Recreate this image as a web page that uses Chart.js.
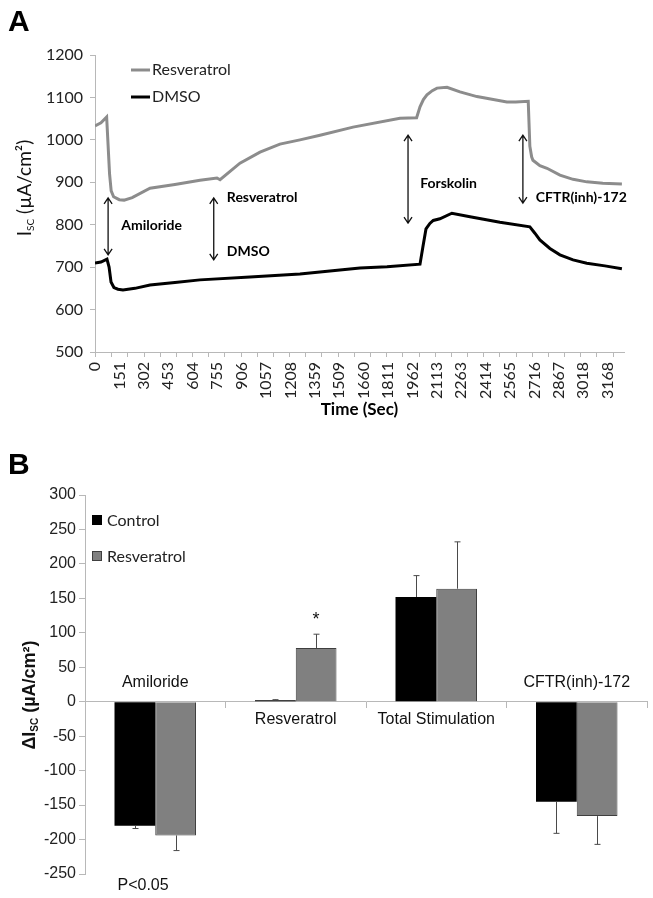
<!DOCTYPE html>
<html>
<head>
<meta charset="utf-8">
<script src="https://cdn.jsdelivr.net/npm/chart.js@4.4.1/dist/chart.umd.min.js"></script>
<style>
  body { margin: 0; background: #fff; }
  canvas { display: block; }
</style>
</head>
<body>
<canvas id="chartA" width="653" height="450" style="width:653px;height:450px"></canvas>
<canvas id="chartB" width="653" height="448" style="width:653px;height:448px"></canvas>
<script>
// ---- panel A: Isc trace ----
var RESV_TIME = [0, 37, 72, 90, 100, 115, 150, 180, 230, 340, 494, 649, 754, 773, 896, 1020, 1143, 1267, 1391, 1595, 1885, 1988, 2009, 2030, 2052, 2085, 2114, 2176, 2256, 2361, 2546, 2600, 2678, 2688, 2699, 2707, 2750, 2794, 2874, 2955, 3040, 3139, 3257];
var RESV_ISC  = [1033, 1040, 1054, 920, 880, 866, 859, 858, 864, 886, 895, 905, 910, 906, 945, 971, 990, 1000, 1011, 1030, 1051, 1052, 1078, 1095, 1106, 1116, 1122, 1124, 1113, 1102, 1089, 1089, 1091, 985, 960, 952, 939, 933, 917, 907, 901, 898, 896];
var DMSO_TIME = [0, 37, 74, 87, 99, 117, 142, 173, 247, 340, 494, 649, 958, 1267, 1452, 1638, 1805, 2009, 2027, 2046, 2070, 2091, 2132, 2206, 2318, 2503, 2688, 2719, 2750, 2812, 2874, 2955, 3040, 3152, 3257];
var DMSO_ISC  = [710, 712, 719, 700, 665, 652, 648, 646, 650, 658, 664, 670, 677, 684, 691, 698, 701, 707, 748, 790, 803, 810, 814, 827, 819, 806, 795, 780, 764, 744, 729, 717, 709, 703, 696];
var TIME_TICKS = [0, 151, 302, 453, 604, 755, 906, 1057, 1208, 1359, 1509, 1660, 1811, 1962, 2113, 2263, 2414, 2565, 2716, 2867, 3018, 3168];
var MINOR_TICK = 100;

// arrows and their notes (time, Isc)
var ARROW_TIME = [81, 734, 1935, 2645];
var ARROW_TOP  = [863, 863, 1011, 1011];
var ARROW_LOW  = [729, 717, 804, 851];
var NOTE_TEXT = ['Amiloride', 'Resveratrol', 'DMSO', 'Forskolin', 'CFTR(inh)-172'];
var NOTE_TIME = [162, 815, 815, 2010, 2725];
var NOTE_ISC  = [799, 865, 736, 898, 865];

// ---- panel B: delta Isc ----
var CATEGORIES = ['Amiloride', 'Resveratrol', 'Total Stimulation', 'CFTR(inh)-172'];
var CONTROL = [-180, 2, 152, -145];
var CONTROL_ERR = [4, 1, 31, 46];
var RESVERATROL = [-194, 78, 164, -166];
var RESVERATROL_ERR = [22, 20, 68, 41];

var calibri = 'Lato, "Open Sans", sans-serif';
var arial = '"Liberation Sans", Arial, sans-serif';
var axisGrey = '#b8b8b8';

function points(times, vals) {
    return times.map(function (t, i) { return { x: t, y: vals[i] }; });
}

function plain(v) { return String(v); }

// vertical axis title with a subscript part
function sideTitle(ctx, cx, cy, parts, family, weight) {
    ctx.save();
    ctx.translate(cx, cy);
    ctx.rotate(-Math.PI / 2);
    ctx.textBaseline = 'alphabetic';
    ctx.textAlign = 'left';
    var total = 0;
    parts.forEach(function (p) {
        ctx.font = weight + ' ' + p.size + 'px ' + family;
        p.w = ctx.measureText(p.text).width;
        total += p.w;
    });
    var x = -total / 2;
    parts.forEach(function (p) {
        ctx.font = weight + ' ' + p.size + 'px ' + family;
        ctx.fillText(p.text, x, p.sub ? 3 : 0);
        x += p.w;
    });
    ctx.restore();
}

var panelA = {
    id: 'panelA',
    afterDraw: function (chart) {
        var ctx = chart.ctx, area = chart.chartArea;
        var x = chart.scales.x, y = chart.scales.y;
        ctx.save();

        ctx.strokeStyle = axisGrey;
        ctx.lineWidth = 1;
        for (var t = 0; t <= x.max; t += MINOR_TICK) {
            var px = Math.round(x.getPixelForValue(t)) + 0.5;
            ctx.beginPath();
            ctx.moveTo(px, area.bottom);
            ctx.lineTo(px, area.bottom + 5);
            ctx.stroke();
        }

        ctx.strokeStyle = '#111';
        ctx.lineWidth = 1.3;
        ARROW_TIME.forEach(function (t, i) {
            var ax = x.getPixelForValue(t);
            var y1 = y.getPixelForValue(ARROW_TOP[i]);
            var y2 = y.getPixelForValue(ARROW_LOW[i]);
            ctx.beginPath();
            ctx.moveTo(ax, y1); ctx.lineTo(ax, y2);
            ctx.moveTo(ax - 4, y1 + 6); ctx.lineTo(ax, y1); ctx.lineTo(ax + 4, y1 + 6);
            ctx.moveTo(ax - 4, y2 - 6); ctx.lineTo(ax, y2); ctx.lineTo(ax + 4, y2 - 6);
            ctx.stroke();
        });

        ctx.fillStyle = '#000';
        ctx.font = 'bold 14px ' + calibri;
        ctx.textBaseline = 'middle';
        ctx.textAlign = 'left';
        NOTE_TEXT.forEach(function (s, i) {
            ctx.fillText(s, x.getPixelForValue(NOTE_TIME[i]), y.getPixelForValue(NOTE_ISC[i]));
        });

        // legend
        ctx.font = '16px ' + calibri;
        chart.data.datasets.forEach(function (ds, i) {
            var ly = 70 + i * 27;
            ctx.strokeStyle = ds.borderColor;
            ctx.lineWidth = 3;
            ctx.beginPath();
            ctx.moveTo(131, ly); ctx.lineTo(150, ly);
            ctx.stroke();
            ctx.fillStyle = '#222';
            ctx.fillText(ds.label, 152, ly);
        });

        ctx.fillStyle = '#111';
        sideTitle(ctx, 31, 188, [
            { text: 'I', size: 19 },
            { text: 'SC', size: 10, sub: true },
            { text: ' (\u00b5A/cm\u00b2)', size: 19 }
        ], calibri, 'normal');

        ctx.fillStyle = '#000';
        ctx.font = 'bold 30px ' + arial;
        ctx.textBaseline = 'alphabetic';
        ctx.fillText('A', 8, 31);
        ctx.restore();
    }
};

new Chart(document.getElementById('chartA'), {
    type: 'line',
    data: {
        datasets: [
            { label: 'Resveratrol', data: points(RESV_TIME, RESV_ISC), borderColor: '#8c8c8c', borderWidth: 3, pointRadius: 0, fill: false },
            { label: 'DMSO', data: points(DMSO_TIME, DMSO_ISC), borderColor: '#000000', borderWidth: 3, pointRadius: 0, fill: false }
        ]
    },
    options: {
        responsive: false,
        animation: false,
        layout: { padding: { top: 55, right: 29, bottom: 26, left: 0 } },
        plugins: { legend: { display: false }, tooltip: { enabled: false } },
        scales: {
            x: {
                type: 'linear', min: 0, max: 3270,
                afterBuildTicks: function (ax) { ax.ticks = TIME_TICKS.map(function (v) { return { value: v }; }); },
                afterFit: function (ax) { ax.height = 72; },
                ticks: { autoSkip: false, minRotation: 90, maxRotation: 90, padding: 10, color: '#222',
                    font: { family: calibri, size: 16 }, callback: plain },
                grid: { drawOnChartArea: false, drawTicks: false },
                border: { color: axisGrey },
                title: { display: true, text: 'Time (Sec)', color: '#000',
                    font: { family: calibri, size: 17, weight: 'bold' }, padding: { top: 0, bottom: 4 } }
            },
            y: {
                min: 500, max: 1200,
                afterFit: function (ax) { ax.width = 95; },
                ticks: { stepSize: 100, padding: 7, color: '#222', font: { family: calibri, size: 16 }, callback: plain },
                grid: { drawOnChartArea: false, tickLength: 5, color: axisGrey },
                border: { color: axisGrey }
            }
        }
    },
    plugins: [panelA]
});

var panelB = {
    id: 'panelB',
    afterDatasetsDraw: function (chart) {
        var ctx = chart.ctx, y = chart.scales.y;
        ctx.save();
        ctx.strokeStyle = '#4a4a4a';
        ctx.lineWidth = 1;
        chart.data.datasets.forEach(function (ds, d) {
            chart.getDatasetMeta(d).data.forEach(function (bar, i) {
                var v = ds.data[i];
                var end = y.getPixelForValue(v + (v < 0 ? -1 : 1) * ds.errors[i]);
                var bx = Math.round(bar.x) + 0.5;
                ctx.beginPath();
                ctx.moveTo(bx, bar.y); ctx.lineTo(bx, end);
                ctx.moveTo(bx - 3, end); ctx.lineTo(bx + 3, end);
                ctx.stroke();
            });
        });
        ctx.restore();
    },
    afterDraw: function (chart) {
        var ctx = chart.ctx, x = chart.scales.x, y = chart.scales.y;
        var zero = y.getPixelForValue(0);
        ctx.save();
        ctx.fillStyle = '#111';
        ctx.font = '16px ' + arial;
        ctx.textAlign = 'center';
        ctx.textBaseline = 'middle';
        CATEGORIES.forEach(function (c, i) {
            var below = CONTROL[i] + RESVERATROL[i] > 0;
            ctx.fillText(c, x.getPixelForValue(i), below ? zero + 18 : zero - 19);
        });

        // significance marks
        var starBar = chart.getDatasetMeta(1).data[1];
        var starEnd = y.getPixelForValue(RESVERATROL[1] + RESVERATROL_ERR[1]);
        ctx.font = '18px ' + arial;
        ctx.textBaseline = 'alphabetic';
        ctx.fillText('*', starBar.x, starEnd - 9);
        var amBar = chart.getDatasetMeta(0).data[0];
        ctx.font = '16px ' + arial;
        ctx.textAlign = 'left';
        ctx.textBaseline = 'middle';
        ctx.fillText('P<0.05', amBar.x - amBar.width / 2 + 3, chart.chartArea.bottom + 12);

        // legend
        ctx.font = '16px ' + calibri;
        chart.data.datasets.forEach(function (ds, i) {
            var ly = 70 + i * 36;
            ctx.fillStyle = ds.backgroundColor;
            ctx.fillRect(92, ly - 5, 10, 10);
            ctx.strokeStyle = ds.borderColor;
            ctx.lineWidth = 1;
            ctx.strokeRect(92.5, ly - 4.5, 9, 9);
            ctx.fillStyle = '#222';
            ctx.fillText(ds.label, 107, ly + 1);
        });

        ctx.fillStyle = '#111';
        sideTitle(ctx, 35, 245, [
            { text: '\u0394I', size: 18 },
            { text: 'SC', size: 10, sub: true },
            { text: ' (\u00b5A/cm\u00b2)', size: 18 }
        ], arial, 'bold');

        ctx.fillStyle = '#000';
        ctx.font = 'bold 30px ' + arial;
        ctx.textAlign = 'left';
        ctx.textBaseline = 'alphabetic';
        ctx.fillText('B', 8, 24);
        ctx.restore();
    }
};

new Chart(document.getElementById('chartB'), {
    type: 'bar',
    data: {
        labels: CATEGORIES,
        datasets: [
            { label: 'Control', data: CONTROL, errors: CONTROL_ERR, backgroundColor: '#000000', borderColor: '#000000', borderWidth: 0 },
            { label: 'Resveratrol', data: RESVERATROL, errors: RESVERATROL_ERR, backgroundColor: '#808080', borderColor: '#3f3f3f', borderWidth: 1 }
        ]
    },
    options: {
        responsive: false,
        animation: false,
        categoryPercentage: 0.58,
        barPercentage: 1.0,
        layout: { padding: { top: 45, right: 6, bottom: 24, left: 0 } },
        plugins: { legend: { display: false }, tooltip: { enabled: false } },
        scales: {
            x: {
                position: { y: 0 },
                ticks: { display: false },
                grid: { offset: true, drawOnChartArea: false, tickLength: 6, color: axisGrey },
                border: { color: axisGrey }
            },
            y: {
                min: -250, max: 300,
                afterFit: function (ax) { ax.width = 85; },
                ticks: { stepSize: 50, padding: 3, color: '#222', font: { family: arial, size: 16 } },
                grid: { drawOnChartArea: false, tickLength: 6, color: axisGrey },
                border: { color: axisGrey }
            }
        }
    },
    plugins: [panelB]
});
</script>
</body>
</html>
